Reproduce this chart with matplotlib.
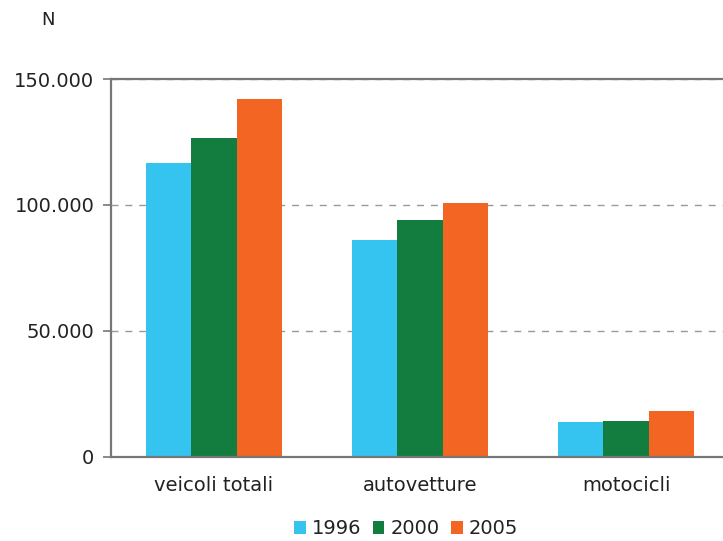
import numpy as np
import matplotlib.pyplot as plt

# vehicle counts by category and year
categorie = ["veicoli totali", "autovetture", "motocicli"]
anni = ["1996", "2000", "2005"]
v1996 = [116500, 86000, 13900]
v2000 = [126500, 93900, 14300]
v2005 = [142000, 100600, 18300]
colori = ["#35C4F0", "#137C3F", "#F26522"]

fig = plt.figure(figsize=(7.23, 5.41), dpi=100)
ax = fig.add_axes([111 / 723, 84 / 541, 618 / 723, 378 / 541])

x = np.arange(len(categorie))
w = 0.221
for i, (serie, col, anno) in enumerate(zip([v1996, v2000, v2005], colori, anni)):
    ax.bar(x + (i - 1) * w, serie, width=w, color=col, label=anno, zorder=2)

ax.set_xlim(-0.5, 2.5)
ax.set_ylim(0, 150000)
ax.set_yticks([0, 50000, 100000, 150000])
ax.set_yticklabels(["0", "50.000", "100.000", "150.000"])
ax.set_xticks(x)
ax.set_xticklabels(categorie)
ax.tick_params(axis="x", length=0, pad=14)
ax.tick_params(axis="y", length=6, width=1.2, color="#777777", pad=6)
ax.tick_params(labelsize=14, labelcolor="#222222")

ax.grid(axis="y", linestyle=(0, (5, 5)), color="#999999", linewidth=1, zorder=0)
for s in ax.spines.values():
    s.set_color("#777777")
    s.set_linewidth(1.6)
ax.spines["right"].set_visible(False)

fig.text(48 / 723, 1 - 20 / 541, "N", fontsize=13, color="#222222",
         ha="center", va="center")

fig.legend(loc="center", bbox_to_anchor=(406 / 723, 1 - 529 / 541), ncol=3,
           frameon=False, fontsize=14, handlelength=0.6, handleheight=0.6,
           handletextpad=0.3, columnspacing=0.6, labelcolor="#222222")

fig.savefig("out.png", dpi=100)
